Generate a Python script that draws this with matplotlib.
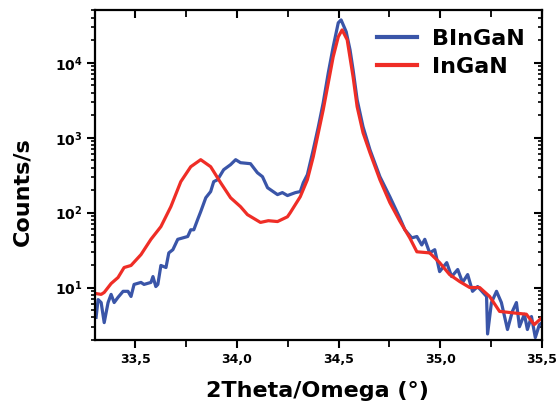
import math

import matplotlib
matplotlib.use("Agg")
import matplotlib.pyplot as plt
from matplotlib.lines import TICKDOWN, TICKLEFT
from matplotlib.ticker import FuncFormatter, LogLocator, MultipleLocator, NullFormatter

plt.rcParams["font.family"] = ["DejaVu Sans"]
plt.rcParams["font.weight"] = "bold"
plt.rcParams["mathtext.fontset"] = "dejavusans"

# 2Theta/Omega scan (deg, counts/s)
bingan_x = [33.306, 33.316, 33.331, 33.346, 33.365, 33.380, 33.395, 33.414, 33.439, 33.463,
            33.478, 33.493, 33.527, 33.542, 33.576, 33.586, 33.600, 33.610, 33.625, 33.650,
            33.664, 33.684, 33.708, 33.757, 33.772, 33.787, 33.806, 33.821, 33.846, 33.870,
            33.885, 33.904, 33.934, 33.968, 33.993, 34.017, 34.066, 34.100, 34.125, 34.150,
            34.199, 34.223, 34.248, 34.287, 34.311, 34.326, 34.346, 34.375, 34.400, 34.424,
            34.449, 34.473, 34.498, 34.512, 34.537, 34.556, 34.571, 34.591, 34.620, 34.654,
            34.703, 34.752, 34.801, 34.826, 34.860, 34.885, 34.909, 34.924, 34.948, 34.973,
            34.997, 35.032, 35.056, 35.086, 35.110, 35.135, 35.159, 35.184, 35.228, 35.233,
            35.252, 35.277, 35.301, 35.331, 35.355, 35.375, 35.390, 35.414, 35.429, 35.449,
            35.468, 35.488, 35.502]
bingan_y = [4.0, 6.9, 6.3, 3.4, 6.3, 8.1, 6.3, 7.4, 8.9, 8.9,
            7.6, 11.0, 11.7, 11.0, 11.7, 14.0, 10.3, 11.0, 19.7, 18.5,
            29, 32, 44, 48, 59, 59, 81, 103, 158, 191,
            259, 275, 374, 437, 509, 464, 450, 341, 302, 215,
            174, 185, 169, 185, 191, 251, 321, 692, 1400, 2930,
            7360, 16300, 34200, 37400, 26000, 14900, 8070, 3210, 1400, 692,
            302, 163, 85, 59, 46, 48, 37, 44, 29, 32,
            16.3, 21.5, 14.0, 17.4, 11.7, 14.9, 8.9, 10.3, 7.6, 2.4,
            6.3, 8.9, 6.3, 2.75, 4.8, 6.3, 3.0, 4.4, 2.75, 4.1,
            2.15, 3.2, 3.4]

ingan_x = [33.306, 33.331, 33.346, 33.380, 33.414, 33.444, 33.478, 33.527, 33.576, 33.625,
           33.674, 33.723, 33.772, 33.821, 33.870, 33.919, 33.968, 34.017, 34.051, 34.115,
           34.154, 34.199, 34.248, 34.262, 34.311, 34.346, 34.375, 34.400, 34.424, 34.449,
           34.473, 34.498, 34.517, 34.542, 34.571, 34.591, 34.620, 34.654, 34.703, 34.752,
           34.801, 34.850, 34.885, 34.948, 34.997, 35.046, 35.096, 35.145, 35.194, 35.243,
           35.292, 35.355, 35.424, 35.463, 35.502]
ingan_y = [8.3, 8.1, 8.6, 11.3, 13.6, 18.5, 19.7, 27.5, 44, 65,
           120, 259, 410, 509, 410, 251, 158, 120, 94, 74,
           78, 76, 88, 100, 163, 275, 558, 1166, 2362, 5410,
           12000, 22200, 27500, 20300, 6500, 2590, 1166, 631, 275, 136,
           77, 46, 30, 29, 21.5, 14.9, 12.0, 10.0, 10.0, 7.6,
           4.8, 4.6, 4.4, 3.2, 4.0]

BLUE = "#3a55a8"
RED = "#ef2d26"


def sci_label(v, pos):
    return r"$\mathbf{10^{%d}}$" % int(round(math.log10(v)))


def comma_label(v, pos):
    return f"{v:.1f}".replace(".", ",")


fig = plt.figure(figsize=(5.58, 4.09), dpi=100)
ax = fig.add_axes([0.170, 0.169, 0.801, 0.807])

ax.plot(bingan_x, bingan_y, color=BLUE, linewidth=2.3, label="BInGaN")
ax.plot(ingan_x, ingan_y, color=RED, linewidth=2.3, label="InGaN")

ax.set_yscale("log")
ax.set_xlim(33.3, 35.5)
ax.set_ylim(2.0, 5.1e4)

ax.xaxis.set_major_locator(MultipleLocator(0.5))
ax.xaxis.set_minor_locator(MultipleLocator(0.25))
ax.xaxis.set_major_formatter(FuncFormatter(comma_label))
ax.yaxis.set_major_locator(LogLocator(base=10, numticks=10))
ax.yaxis.set_minor_locator(LogLocator(base=10, subs=range(2, 10), numticks=20))
ax.yaxis.set_major_formatter(FuncFormatter(sci_label))
ax.yaxis.set_minor_formatter(NullFormatter())

for s in ax.spines.values():
    s.set_linewidth(1.6)

ax.tick_params(axis="both", which="both", direction="out", top=True, right=True,
               labeltop=False, labelright=False)
ax.tick_params(axis="x", which="major", labelsize=9, width=1.5, length=6)
ax.tick_params(axis="x", which="minor", width=1.3, length=5)
ax.tick_params(axis="y", which="major", labelsize=10, width=1.5, length=5.5)
ax.tick_params(axis="y", which="minor", width=1.2, length=3)

ax.set_xlabel("2Theta/Omega (°)", fontsize=16, fontweight="bold")
ax.set_ylabel("Counts/s", fontsize=16, fontweight="bold")
ax.xaxis.set_label_coords(0.499, -0.125)
ax.yaxis.set_label_coords(-0.139, 0.45)

leg = ax.legend(loc="upper left", bbox_to_anchor=(0.631, 0.943), frameon=False,
                fontsize=16, handlelength=1.8, handletextpad=0.68, labelspacing=0.38,
                borderpad=0, borderaxespad=0)
for line in leg.get_lines():
    line.set_linewidth(3)

# Origin-style frame: top and right ticks point inward (bottom/left stay outward)
fig.canvas.draw()
for t in ax.xaxis.get_major_ticks() + ax.xaxis.get_minor_ticks():
    t.tick2line.set_marker(TICKDOWN)
for t in ax.yaxis.get_major_ticks() + ax.yaxis.get_minor_ticks():
    t.tick2line.set_marker(TICKLEFT)

fig.savefig("out.png", dpi=100)
